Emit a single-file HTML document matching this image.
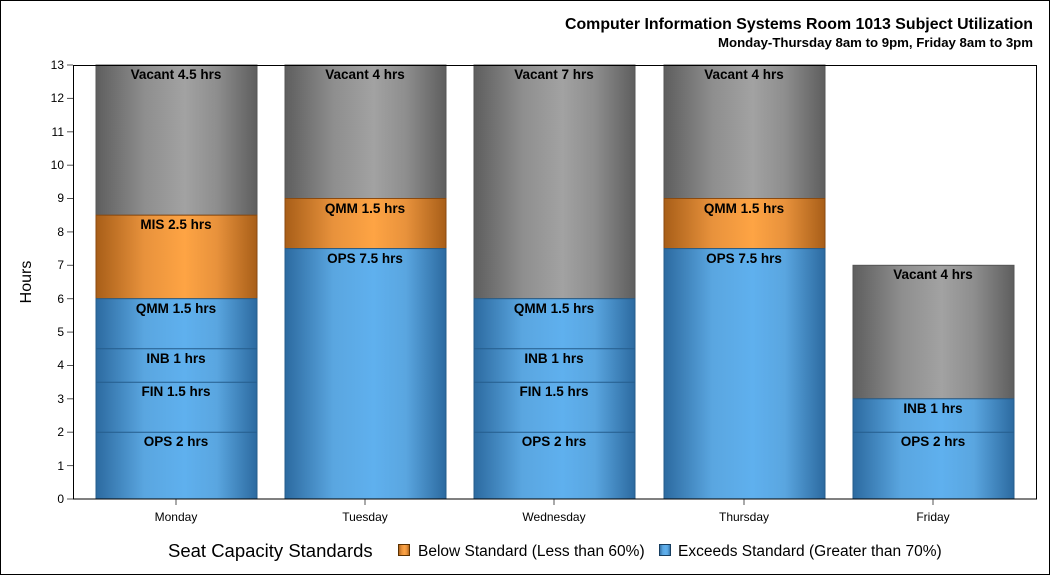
<!DOCTYPE html>
<html><head><meta charset="utf-8"><style>
html,body{margin:0;padding:0;background:#fff}
svg{display:block}
text{font-family:"Liberation Sans",Arial,sans-serif}
</style></head><body>
<svg width="1050" height="575" viewBox="0 0 1050 575" xmlns="http://www.w3.org/2000/svg">
<defs>
<linearGradient id="gb" x1="0" x2="1" y1="0" y2="0">
<stop offset="0" stop-color="#2c6aa0"/><stop offset="0.3" stop-color="#5aa6e0"/><stop offset="0.55" stop-color="#5fb0ee"/><stop offset="0.75" stop-color="#5aa6e0"/><stop offset="1" stop-color="#2c6aa0"/></linearGradient>
<linearGradient id="go" x1="0" x2="1" y1="0" y2="0">
<stop offset="0" stop-color="#a85e18"/><stop offset="0.3" stop-color="#e8923c"/><stop offset="0.55" stop-color="#fea444"/><stop offset="0.75" stop-color="#e8923c"/><stop offset="1" stop-color="#a85e18"/></linearGradient>
<linearGradient id="gg" x1="0" x2="1" y1="0" y2="0">
<stop offset="0" stop-color="#5e5e5e"/><stop offset="0.3" stop-color="#8e8e8e"/><stop offset="0.55" stop-color="#a2a2a2"/><stop offset="0.75" stop-color="#8e8e8e"/><stop offset="1" stop-color="#5e5e5e"/></linearGradient>
</defs>
<rect x="0.5" y="0.5" width="1049" height="574" fill="#fff" stroke="#000"/>
<text x="1033" y="29" text-anchor="end" font-size="16" font-weight="bold" textLength="468" lengthAdjust="spacingAndGlyphs">Computer Information Systems Room 1013 Subject Utilization</text>
<text x="1033" y="47" text-anchor="end" font-size="13" font-weight="bold" textLength="315" lengthAdjust="spacingAndGlyphs">Monday-Thursday 8am to 9pm, Friday 8am to 3pm</text>
<text transform="translate(31,282) rotate(-90)" text-anchor="middle" font-size="16">Hours</text>
<g font-size="12" text-anchor="end" fill="#000">
<text x="64" y="503">0</text><text x="64" y="470">1</text><text x="64" y="436">2</text><text x="64" y="403">3</text><text x="64" y="369">4</text><text x="64" y="336">5</text><text x="64" y="303">6</text><text x="64" y="269">7</text><text x="64" y="236">8</text><text x="64" y="202">9</text><text x="64" y="169">10</text><text x="64" y="136">11</text><text x="64" y="102">12</text><text x="64" y="69">13</text>
</g>
<g stroke="#555">
<line x1="67" x2="73" y1="499" y2="499"/><line x1="67" x2="73" y1="465.6" y2="465.6"/><line x1="67" x2="73" y1="432.2" y2="432.2"/><line x1="67" x2="73" y1="398.8" y2="398.8"/><line x1="67" x2="73" y1="365.5" y2="365.5"/><line x1="67" x2="73" y1="332.1" y2="332.1"/><line x1="67" x2="73" y1="298.7" y2="298.7"/><line x1="67" x2="73" y1="265.3" y2="265.3"/><line x1="67" x2="73" y1="231.9" y2="231.9"/><line x1="67" x2="73" y1="198.5" y2="198.5"/><line x1="67" x2="73" y1="165.2" y2="165.2"/><line x1="67" x2="73" y1="131.8" y2="131.8"/><line x1="67" x2="73" y1="98.4" y2="98.4"/><line x1="67" x2="73" y1="65" y2="65"/>
<line x1="176" x2="176" y1="499" y2="505"/><line x1="365" x2="365" y1="499" y2="505"/><line x1="554" x2="554" y1="499" y2="505"/><line x1="744" x2="744" y1="499" y2="505"/><line x1="933" x2="933" y1="499" y2="505"/>
</g>
<g stroke-width="1">
<rect x="96" y="65" width="161" height="150.2" fill="url(#gg)" stroke="#555"/>
<rect x="96" y="215.2" width="161" height="83.5" fill="url(#go)" stroke="#8a4a10"/>
<rect x="96" y="298.7" width="161" height="200.3" fill="url(#gb)" stroke="#255d8c"/>
<line x1="96" x2="257" y1="348.8" y2="348.8" stroke="#255d8c"/><line x1="96" x2="257" y1="382.2" y2="382.2" stroke="#255d8c"/><line x1="96" x2="257" y1="432.2" y2="432.2" stroke="#255d8c"/>
<rect x="285" y="65" width="161" height="133.5" fill="url(#gg)" stroke="#555"/>
<rect x="285" y="198.5" width="161" height="50.1" fill="url(#go)" stroke="#8a4a10"/>
<rect x="285" y="248.6" width="161" height="250.4" fill="url(#gb)" stroke="#255d8c"/>
<rect x="474" y="65" width="161" height="233.7" fill="url(#gg)" stroke="#555"/>
<rect x="474" y="298.7" width="161" height="200.3" fill="url(#gb)" stroke="#255d8c"/>
<line x1="474" x2="635" y1="348.8" y2="348.8" stroke="#255d8c"/><line x1="474" x2="635" y1="382.2" y2="382.2" stroke="#255d8c"/><line x1="474" x2="635" y1="432.2" y2="432.2" stroke="#255d8c"/>
<rect x="664" y="65" width="161" height="133.5" fill="url(#gg)" stroke="#555"/>
<rect x="664" y="198.5" width="161" height="50.1" fill="url(#go)" stroke="#8a4a10"/>
<rect x="664" y="248.6" width="161" height="250.4" fill="url(#gb)" stroke="#255d8c"/>
<rect x="853" y="265.3" width="161" height="133.5" fill="url(#gg)" stroke="#555"/>
<rect x="853" y="398.8" width="161" height="100.2" fill="url(#gb)" stroke="#255d8c"/>
<line x1="853" x2="1014" y1="432.2" y2="432.2" stroke="#255d8c"/>
</g>
<rect x="73.5" y="65.5" width="963" height="433.5" fill="none" stroke="#000"/>
<g font-size="13.5" font-weight="bold" text-anchor="middle">
<text x="176" y="79">Vacant 4.5 hrs</text><text x="176" y="229">MIS 2.5 hrs</text><text x="176" y="313">QMM 1.5 hrs</text><text x="176" y="363">INB 1 hrs</text><text x="176" y="396">FIN 1.5 hrs</text><text x="176" y="446">OPS 2 hrs</text>
<text x="365" y="79">Vacant 4 hrs</text><text x="365" y="213">QMM 1.5 hrs</text><text x="365" y="263">OPS 7.5 hrs</text>
<text x="554" y="79">Vacant 7 hrs</text><text x="554" y="313">QMM 1.5 hrs</text><text x="554" y="363">INB 1 hrs</text><text x="554" y="396">FIN 1.5 hrs</text><text x="554" y="446">OPS 2 hrs</text>
<text x="744" y="79">Vacant 4 hrs</text><text x="744" y="213">QMM 1.5 hrs</text><text x="744" y="263">OPS 7.5 hrs</text>
<text x="933" y="279">Vacant 4 hrs</text><text x="933" y="413">INB 1 hrs</text><text x="933" y="446">OPS 2 hrs</text>
</g>
<g font-size="12" text-anchor="middle">
<text x="176" y="521">Monday</text><text x="365" y="521">Tuesday</text><text x="554" y="521">Wednesday</text><text x="744" y="521">Thursday</text><text x="933" y="521">Friday</text>
</g>
<text x="168" y="557" font-size="18.5">Seat Capacity Standards</text>
<rect x="398.5" y="544.5" width="11" height="11" fill="url(#go)" stroke="#5a3000"/>
<text x="418" y="556" font-size="15.5">Below Standard (Less than 60%)</text>
<rect x="659.5" y="544.5" width="11" height="11" fill="url(#gb)" stroke="#173d5e"/>
<text x="678" y="556" font-size="15.5">Exceeds Standard (Greater than 70%)</text>
</svg>
</body></html>
